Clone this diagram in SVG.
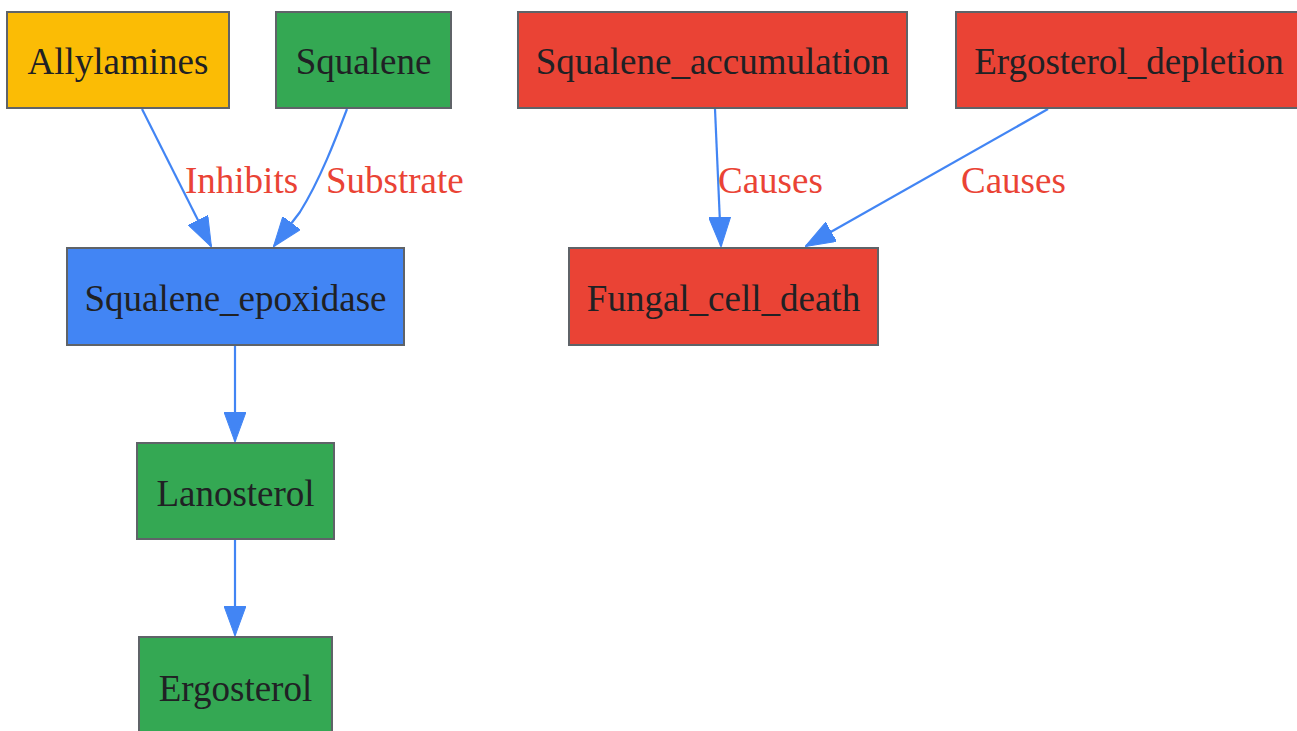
<svg xmlns="http://www.w3.org/2000/svg" width="1297" height="731" viewBox="0 0 1297 731">
<style>
.node rect{stroke:#5f6368;stroke-width:2}
.node text{font-family:"Liberation Serif","Times New Roman",serif;font-size:37px;fill:#202124;text-anchor:middle}
.edge{fill:none;stroke:#4285F4;stroke-width:2.2}
.lbl{font-family:"Liberation Serif","Times New Roman",serif;font-size:37px;fill:#EA4335}
</style>
<defs>
<marker id="arr" viewBox="0 0 30 22" refX="29" refY="11" markerWidth="30" markerHeight="22" markerUnits="userSpaceOnUse" orient="auto">
<path d="M0,0 L30,11 L0,22 z" fill="#4285F4" stroke="#4285F4" stroke-width="1"/>
</marker>
</defs>
<rect width="1297" height="731" fill="#ffffff"/>
<g id="connectors">
<path class="edge" d="M142,109 L211,246" marker-end="url(#arr)"/>
<path class="edge" d="M347,109 C336,138 320,180 300,212 L274,246" marker-end="url(#arr)"/>
<path class="edge" d="M235,345 L235,441" marker-end="url(#arr)"/>
<path class="edge" d="M235,539 L235,635" marker-end="url(#arr)"/>
<path class="edge" d="M715,109 L721,246" marker-end="url(#arr)"/>
<path class="edge" d="M1048,109 L806,246" marker-end="url(#arr)"/>
<text class="lbl" x="185" y="193">Inhibits</text>
<text class="lbl" x="326" y="193">Substrate</text>
<text class="lbl" x="718" y="193">Causes</text>
<text class="lbl" x="961" y="193">Causes</text>
</g>
<g id="Allylamines" class="node"><rect x="7" y="12" width="222" height="96" fill="#FBBC05"/><text x="118" y="74">Allylamines</text></g>
<g id="Squalene" class="node"><rect x="276" y="12" width="175" height="96" fill="#34A853"/><text x="363.5" y="74">Squalene</text></g>
<g id="Squalene_accumulation" class="node"><rect x="518" y="12" width="389" height="96" fill="#EA4335"/><text x="712.5" y="74">Squalene_accumulation</text></g>
<g id="Ergosterol_depletion" class="node"><rect x="956" y="12" width="345" height="96" fill="#EA4335"/><text x="1129" y="74">Ergosterol_depletion</text></g>
<g id="Squalene_epoxidase" class="node"><rect x="67" y="248" width="337" height="97" fill="#4285F4"/><text x="235.5" y="311">Squalene_epoxidase</text></g>
<g id="Fungal_cell_death" class="node"><rect x="569" y="248" width="309" height="97" fill="#EA4335"/><text x="723.5" y="311">Fungal_cell_death</text></g>
<g id="Lanosterol" class="node"><rect x="137" y="443" width="197" height="96" fill="#34A853"/><text x="235.5" y="506">Lanosterol</text></g>
<g id="Ergosterol" class="node"><rect x="139" y="637" width="193" height="100" fill="#34A853"/><text x="235.5" y="701">Ergosterol</text></g>
</svg>
